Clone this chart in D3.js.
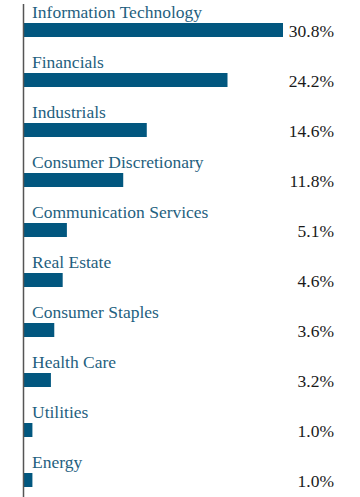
<!DOCTYPE html>
<html><head><meta charset="utf-8">
<script src="https://cdn.jsdelivr.net/npm/d3@7"></script>
<style>body{margin:0;background:#fff}svg{display:block}
text{font-family:"Liberation Serif","Times New Roman",Tinos,serif}</style>
</head><body>
<script>
const categories = ["Information Technology","Financials","Industrials","Consumer Discretionary","Communication Services","Real Estate","Consumer Staples","Health Care","Utilities","Energy"];
const values = [30.8,24.2,14.6,11.8,5.1,4.6,3.6,3.2,1.0,1.0];
const valueLabels = ["30.8%","24.2%","14.6%","11.8%","5.1%","4.6%","3.6%","3.2%","1.0%","1.0%"];

const W = 360, H = 497;
const x0 = 24;
const svg = d3.select("body").append("svg").attr("width", W).attr("height", H);
const x = d3.scaleLinear().domain([0, 30.8]).range([x0, 283]);
const y = d3.scaleBand().domain(categories).range([0, 500]).paddingInner(0).paddingOuter(0);

const g = svg.selectAll("g.row").data(categories).enter().append("g")
  .attr("transform", d => `translate(0,${y(d)})`);

g.append("rect")
  .attr("x", x0)
  .attr("y", 23)
  .attr("width", (d,i) => x(values[i]) - x0)
  .attr("height", 14)
  .attr("fill", "#02577f");

g.append("text")
  .attr("x", 32).attr("y", 18)
  .attr("font-size", 17.5)
  .attr("fill", "#1f5f80")
  .text(d => d);

g.append("text")
  .attr("x", 334).attr("y", 37)
  .attr("text-anchor", "end")
  .attr("font-size", 17.5)
  .attr("fill", "#1a1a1a")
  .text((d,i) => valueLabels[i]);

svg.append("line")
  .attr("x1", x0 - 0.5).attr("x2", x0 - 0.5)
  .attr("y1", 4).attr("y2", H)
  .attr("stroke", "#555").attr("stroke-width", 1.5);
</script>
</body></html>
